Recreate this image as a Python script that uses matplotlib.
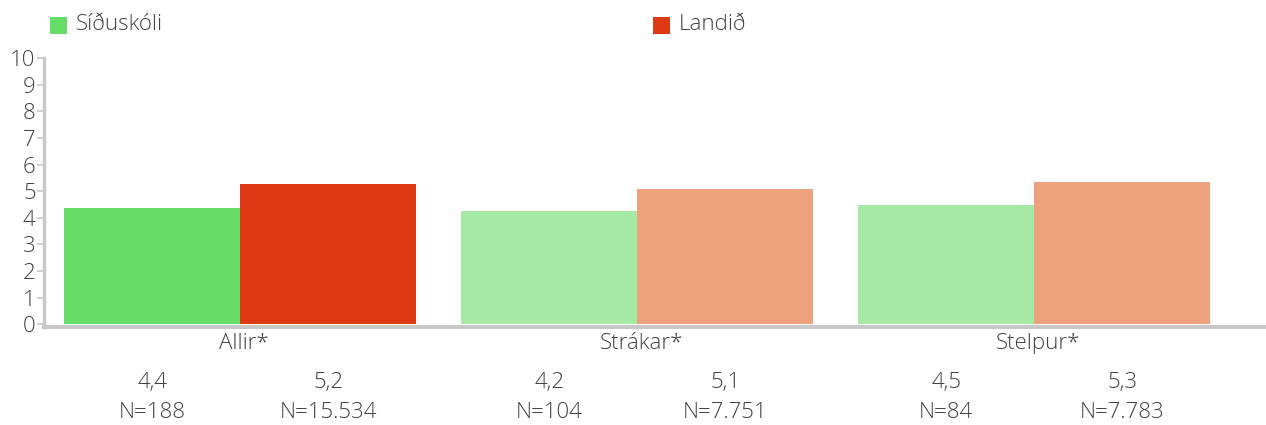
import matplotlib
matplotlib.use('Agg')
import matplotlib.pyplot as plt
from matplotlib.patches import Rectangle
import numpy as np

# dane
kategorie = ['Allir*', 'Strákar*', 'Stelpur*']
sidusk = [4.37, 4.25, 4.48]
landid = [5.26, 5.08, 5.36]
etykiety_sidusk = ['4,4', '4,2', '4,5']
etykiety_landid = ['5,2', '5,1', '5,3']
n_sidusk = ['N=188', 'N=104', 'N=84']
n_landid = ['N=15.534', 'N=7.751', 'N=7.783']
nazwy_serii = ['Síðuskóli', 'Landið']

kolory_sidusk = ['#66dd66', '#a5e9a5', '#a5e9a5']
kolory_landid = ['#dd3913', '#eea17d', '#eea17d']
tekst = '#404040'
szary = '#c8c8c8'

plt.rcParams['font.family'] = ['Open Sans', 'DejaVu Sans']
plt.rcParams['font.weight'] = 'light'

fig = plt.figure(figsize=(12.66, 4.25), dpi=100)
ax = fig.add_axes([0.03476, 0.2306, 0.9653, 0.633])

x = np.arange(len(kategorie))
szer = 0.443
ax.bar(x - szer / 2, sidusk, szer, color=kolory_sidusk, edgecolor='none')
ax.bar(x + szer / 2, landid, szer, color=kolory_landid, edgecolor='none')

ax.set_xlim(-0.494, 2.584)
ax.set_ylim(-0.1, 10)
ax.set_yticks(range(0, 11))
ax.set_xticks([])

for s in ['top', 'right']:
    ax.spines[s].set_visible(False)
ax.spines['left'].set_color(szary)
ax.spines['left'].set_linewidth(2.5)
ax.spines['left'].set_bounds(-0.1, 10)
ax.spines['bottom'].set_color(szary)
ax.spines['bottom'].set_linewidth(3)

ax.tick_params(axis='y', colors=szary, length=5, width=1.2, pad=1,
               labelsize=16, labelcolor=tekst)

tr = ax.get_xaxis_transform()
for i, kat in enumerate(kategorie):
    ax.text(x[i] + 0.01, -0.06, kat, transform=tr, ha='center', va='center',
            fontsize=16, color=tekst)
    ax.text(x[i] - szer / 2, -0.208, etykiety_sidusk[i], transform=tr,
            ha='center', va='center', fontsize=16, color=tekst)
    ax.text(x[i] + szer / 2, -0.208, etykiety_landid[i], transform=tr,
            ha='center', va='center', fontsize=16, color=tekst)
    ax.text(x[i] - szer / 2, -0.318, n_sidusk[i], transform=tr,
            ha='center', va='center', fontsize=16, color=tekst)
    ax.text(x[i] + szer / 2, -0.318, n_landid[i], transform=tr,
            ha='center', va='center', fontsize=16, color=tekst)

# legenda recznie, dwa wpisy daleko od siebie
W, H = 1266.0, 425.0
for px, nazwa, kol in [(50, nazwy_serii[0], kolory_sidusk[0]),
                       (653, nazwy_serii[1], kolory_landid[0])]:
    fig.add_artist(Rectangle((px / W, 1 - 34 / H), 16.5 / W, 17 / H,
                             transform=fig.transFigure, color=kol, lw=0))
    fig.text((px + 26) / W, 1 - 25 / H, nazwa, ha='left', va='center',
             fontsize=16, color=tekst)

fig.savefig('out.png', dpi=100)
